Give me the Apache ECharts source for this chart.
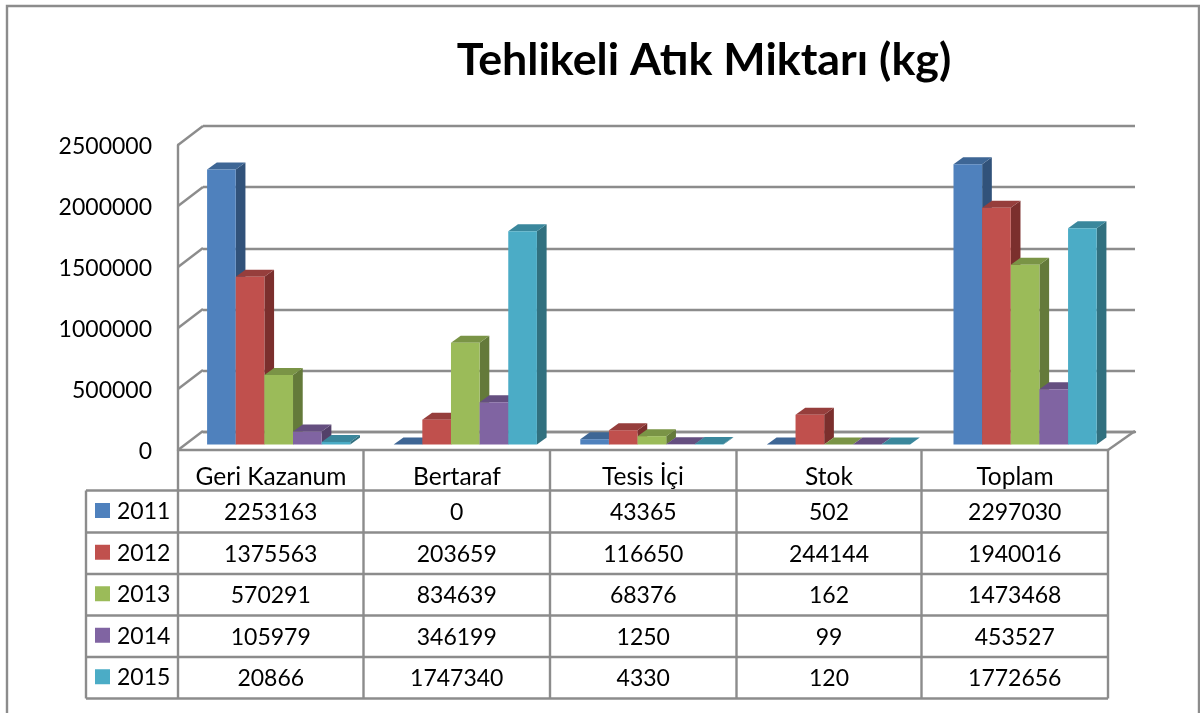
<!DOCTYPE html>
<html>
<head>
<meta charset="utf-8">
<title>Tehlikeli Atık Miktarı (kg)</title>
<script src="https://cdn.jsdelivr.net/npm/echarts@6/dist/echarts.min.js"></script>
<style>
html, body { margin: 0; padding: 0; background: #fff; }
#main { width: 1200px; height: 713px; }
</style>
</head>
<body>
<div id="main"></div>
<script>
var categories = ['Geri Kazanum', 'Bertaraf', 'Tesis İçi', 'Stok', 'Toplam'];
var years = ['2011', '2012', '2013', '2014', '2015'];
var values2011 = [2253163, 0, 43365, 502, 2297030];
var values2012 = [1375563, 203659, 116650, 244144, 1940016];
var values2013 = [570291, 834639, 68376, 162, 1473468];
var values2014 = [105979, 346199, 1250, 99, 453527];
var values2015 = [20866, 1747340, 4330, 120, 1772656];
var yTicks = [0, 500000, 1000000, 1500000, 2000000, 2500000];

var allValues = [values2011, values2012, values2013, values2014, values2015];

// front, top and side colours of each year's bar
var barColors = [
    ['#4f81bd', '#3e6695', '#31527a'],
    ['#c0504d', '#963e3c', '#7b2f2d'],
    ['#9bbb59', '#7a9446', '#647a3a'],
    ['#8064a2', '#654f80', '#534069'],
    ['#4bacc6', '#3a879c', '#31707f']
];

var FONT = 'Lato';
var LINE = '#8c8c8c';
var LINE_W = 2.4;
var TEXT_SIZE = 23;

// table layout
var colX = [86, 178, 363.5, 550, 736.5, 921.5, 1108];
var rowY = [490.5, 532.5, 574, 615.5, 657, 698.5];
var headY = 450;

// floor depth of the fake 3d box, and depth of one bar
var wallDx = 25, wallDy = -19;
var barDx = 9.7, barDy = -7;

function barSeries(yearIndex) {
    return {
        name: years[yearIndex],
        type: 'custom',
        xAxisIndex: 1,
        yAxisIndex: 1,
        data: allValues[yearIndex].map(function (v, i) { return [i, v]; }),
        renderItem: function (params, api) {
            var base = api.coord([api.value(0), 0]);
            var top = api.coord([api.value(0), api.value(1)]);
            var w = api.size([1, 0])[0] * 0.1535;
            var x0 = base[0] + (yearIndex - 2.5) * w;
            var x1 = x0 + w;
            var y0 = base[1];
            var y1 = top[1];
            var c = barColors[yearIndex];
            return {
                type: 'group',
                children: [
                    {
                        type: 'polygon',
                        shape: { points: [[x1, y0], [x1 + barDx, y0 + barDy], [x1 + barDx, y1 + barDy], [x1, y1]] },
                        style: { fill: c[2] }
                    },
                    {
                        type: 'polygon',
                        shape: { points: [[x0, y1], [x1, y1], [x1 + barDx, y1 + barDy], [x0 + barDx, y1 + barDy]] },
                        style: { fill: c[1] }
                    },
                    {
                        type: 'rect',
                        shape: { x: x0, y: y1, width: w, height: y0 - y1 },
                        style: { fill: c[0] }
                    }
                ]
            };
        }
    };
}

// the slanted lines running from the front plane to the back wall
var wallSeries = {
    type: 'custom',
    xAxisIndex: 0,
    yAxisIndex: 0,
    silent: true,
    data: yTicks.map(function (t) { return [0, t]; }),
    renderItem: function (params, api) {
        var y = api.coord([0, api.value(1)])[1];
        var left = params.coordSys.x;
        var children = [{
            type: 'line',
            shape: { x1: left, y1: y, x2: left + wallDx, y2: y + wallDy },
            style: { stroke: LINE, lineWidth: LINE_W }
        }];
        if (api.value(1) === 0) {
            var right = left + params.coordSys.width;
            children.push({
                type: 'line',
                shape: { x1: right, y1: y, x2: right + wallDx + 2, y2: y + wallDy },
                style: { stroke: LINE, lineWidth: LINE_W }
            });
        }
        return { type: 'group', children: children };
    }
};

function cellText(text, x, y, align) {
    return {
        type: 'text',
        z: 5,
        style: {
            text: text,
            x: x,
            y: y,
            fill: '#000',
            font: TEXT_SIZE + 'px ' + FONT,
            align: align,
            verticalAlign: 'middle'
        }
    };
}

function tableLine(x1, y1, x2, y2) {
    return {
        type: 'line',
        z: 4,
        shape: { x1: x1, y1: y1, x2: x2, y2: y2 },
        style: { stroke: LINE, lineWidth: LINE_W }
    };
}

var tableItems = [];
rowY.forEach(function (y) {
    tableItems.push(tableLine(colX[0], y, colX[6], y));
});
colX.forEach(function (x, i) {
    tableItems.push(tableLine(x, i === 0 ? rowY[0] : headY, x, rowY[5]));
});
years.forEach(function (year, r) {
    var cy = (rowY[r] + rowY[r + 1]) / 2;
    tableItems.push({
        type: 'rect',
        z: 5,
        shape: { x: 95, y: cy - 8.5, width: 15, height: 15 },
        style: { fill: barColors[r][0] }
    });
    tableItems.push(cellText(year, 117, cy, 'left'));
    allValues[r].forEach(function (v, c) {
        tableItems.push(cellText(String(v), (colX[c + 1] + colX[c + 2]) / 2, cy + 1, 'center'));
    });
});

var option = {
    animation: false,
    backgroundColor: '#fff',
    textStyle: { fontFamily: FONT },
    title: {
        text: 'Tehlikeli Atık Miktarı (kg)',
        left: 699,
        top: 33,
        textAlign: 'center',
        textStyle: { fontFamily: FONT, fontSize: 44.8, fontWeight: 'bold', color: '#000' }
    },
    // front plane, bar plane, back wall
    grid: [
        { left: 178, top: 145, width: 930, height: 305 },
        { left: 185.4, top: 139.5, width: 933, height: 305 },
        { left: 203, top: 126, width: 932, height: 306 }
    ],
    xAxis: [
        {
            type: 'category',
            gridIndex: 0,
            data: categories,
            axisLine: { lineStyle: { color: LINE, width: LINE_W } },
            axisTick: { show: false },
            axisLabel: { color: '#000', fontSize: 24.5, fontFamily: FONT, margin: 15, interval: 0 }
        },
        { type: 'category', gridIndex: 1, data: categories, show: false },
        {
            type: 'category',
            gridIndex: 2,
            data: categories,
            axisLine: { lineStyle: { color: LINE, width: LINE_W } },
            axisTick: { show: false },
            axisLabel: { show: false }
        }
    ],
    yAxis: [
        {
            type: 'value',
            gridIndex: 0,
            min: 0,
            max: 2500000,
            interval: 500000,
            axisLine: { show: true, lineStyle: { color: LINE, width: LINE_W } },
            axisTick: { show: false },
            splitLine: { show: false },
            axisLabel: {
                color: '#000',
                fontSize: TEXT_SIZE,
                fontFamily: FONT,
                margin: 26,
                verticalAlign: 'top',
                lineHeight: 4,
                formatter: function (v) { return String(v); }
            }
        },
        { type: 'value', gridIndex: 1, min: 0, max: 2500000, interval: 500000, show: false },
        {
            type: 'value',
            gridIndex: 2,
            min: 0,
            max: 2500000,
            interval: 500000,
            axisLine: { show: false },
            axisTick: { show: false },
            axisLabel: { show: false },
            splitLine: { lineStyle: { color: LINE, width: LINE_W } }
        }
    ],
    graphic: [{
        type: 'rect',
        z: -1,
        silent: true,
        shape: { x: 7, y: 6, width: 1192, height: 720 },
        style: { fill: 'none', stroke: LINE, lineWidth: LINE_W }
    }].concat(tableItems),
    series: [wallSeries].concat(years.map(function (y, i) { return barSeries(i); }))
};

var myChart = echarts.init(document.getElementById('main'));
myChart.setOption(option);
</script>
</body>
</html>
